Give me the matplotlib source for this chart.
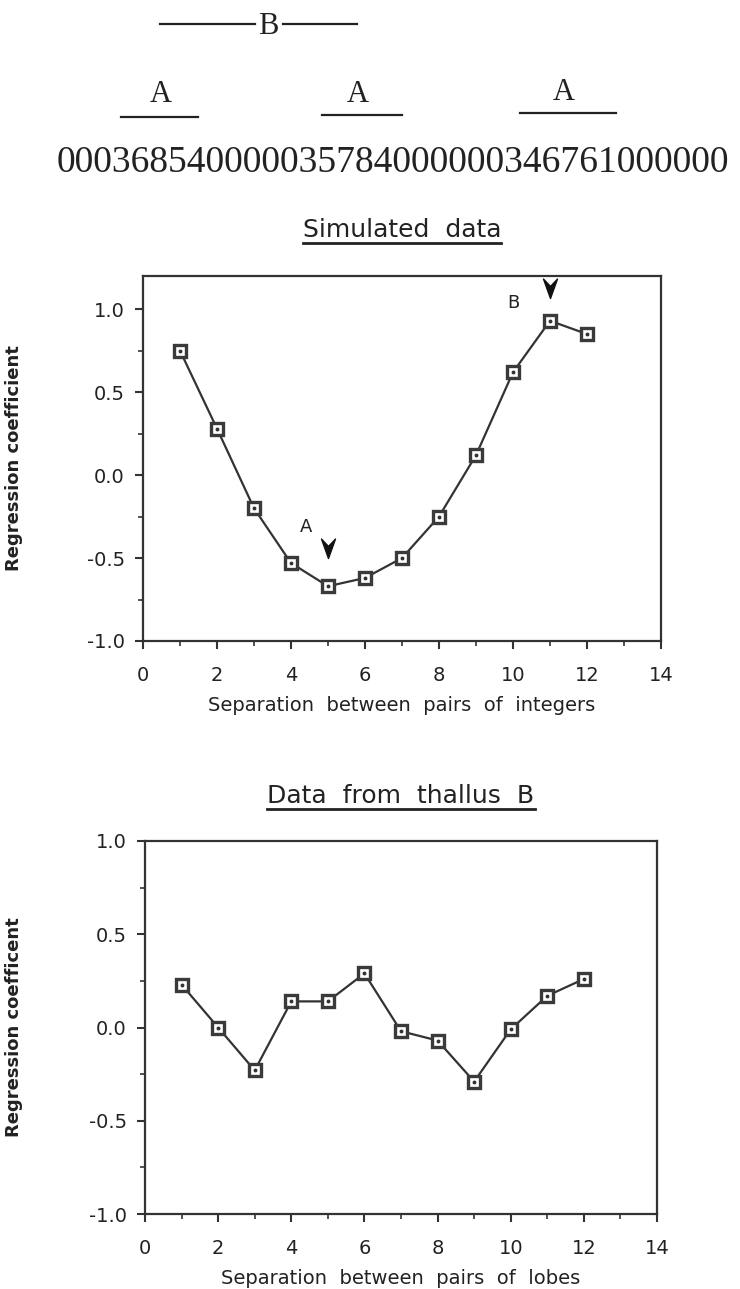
import matplotlib
matplotlib.use("Agg")
import matplotlib.pyplot as plt
from matplotlib.path import Path
from matplotlib.lines import Line2D
from matplotlib.ticker import MultipleLocator
import numpy as np

# data
separation = [1, 2, 3, 4, 5, 6, 7, 8, 9, 10, 11, 12]
simulated_coef = [0.75, 0.28, -0.20, -0.53, -0.67, -0.62, -0.50, -0.25, 0.12, 0.62, 0.93, 0.85]
thallus_coef = [0.23, 0.00, -0.23, 0.14, 0.14, 0.29, -0.02, -0.07, -0.29, -0.01, 0.17, 0.26]
sequence = "000368540000035784000000346761000000"

# arrow annotations on the simulated plot: (label, label x, label y, tip x, tip y)
arrows = [("A", 4.4, -0.31, 5, -0.50), ("B", 10.0, 1.04, 11, 1.07)]

W, H, DPI = 740, 1289, 100
LINE_COL = "#333333"
SANS = "DejaVu Sans"
SERIF = "Liberation Serif"

fig = plt.figure(figsize=(W / DPI, H / DPI), dpi=DPI)

# overlay in pixel coordinates for the sequence diagram and the titles
over = fig.add_axes([0, 0, 1, 1], zorder=0)
over.set_xlim(0, W)
over.set_ylim(H, 0)
over.axis("off")

# chevron shaped arrow head, tip at the origin
chevron = Path([(0, 0), (-0.36, 1), (0, 0.62), (0.36, 1), (0, 0)],
               [Path.MOVETO, Path.LINETO, Path.LINETO, Path.LINETO, Path.CLOSEPOLY])


def rect(top, bottom, left, right):
    return [left / W, 1 - bottom / H, (right - left) / W, (bottom - top) / H]


def setup(ax, ylim, ylabel, xlabel, label_x):
    ax.set_xlim(0, 14)
    ax.set_ylim(*ylim)
    ax.xaxis.set_major_locator(MultipleLocator(2))
    ax.xaxis.set_minor_locator(MultipleLocator(1))
    ax.yaxis.set_major_locator(MultipleLocator(0.5))
    ax.yaxis.set_minor_locator(MultipleLocator(0.25))
    ax.set_yticks([-1.0, -0.5, 0.0, 0.5, 1.0])
    ax.set_yticklabels(["-1.0", "-0.5", "0.0", "0.5", "1.0"])
    ax.tick_params(which="major", length=6, width=1.5, color=LINE_COL,
                   labelsize=14, labelcolor="#222222")
    ax.tick_params(axis="y", which="major", pad=7)
    ax.tick_params(axis="x", which="major", pad=12)
    ax.tick_params(which="minor", length=3.5, width=1.2, color=LINE_COL)
    for s in ax.spines.values():
        s.set_linewidth(1.6)
        s.set_color(LINE_COL)
    ax.set_xlabel(xlabel, fontsize=14, color="#222222", labelpad=8)
    ax.set_ylabel(ylabel, fontsize=13, fontweight="bold", color="#222222")
    ax.yaxis.set_label_coords(label_x, 0.5)


def draw_series(ax, x, y):
    ax.plot(x, y, color=LINE_COL, lw=1.6, marker="s", ms=8, mew=2.4,
            mec="#3a3a3a", mfc="white", zorder=3)
    ax.plot(x, y, ls="none", marker="o", ms=1.8, color="#333333", zorder=4)


# simulated data
ax1 = fig.add_axes(rect(276, 641, 143, 661))
draw_series(ax1, separation, simulated_coef)
setup(ax1, (-1.0, 1.2), "Regression coefficient",
      "Separation  between  pairs  of  integers", -0.232)
for lab, lx, ly, tx, ty in arrows:
    ax1.text(lx, ly, lab, fontsize=13, family=SANS, ha="center", va="center",
             color="#222222")
    ax1.plot([tx], [ty], ls="none", marker=chevron, ms=28, color="#111111",
             clip_on=False, zorder=5)

# thallus B
ax2 = fig.add_axes(rect(841, 1214, 145, 657))
draw_series(ax2, separation, thallus_coef)
setup(ax2, (-1.0, 1.0), "Regression coefficent",
      "Separation  between  pairs  of  lobes", -0.238)

# titles with underline
titles = [("Simulated  data", 402, 237), ("Data  from  thallus  B", 401, 803)]
title_artists = []
for txt, cx, by in titles:
    t = over.text(cx, by, txt, fontsize=18, family=SANS, ha="center",
                  va="baseline", color="#222222")
    title_artists.append((t, by))

# sequence diagram at the top
over.text(57, 163, sequence, fontsize=27, family=SERIF, ha="left",
          va="center", color="#222222")
a_labels = [(161, 95, 121, 198, 117), (358, 95, 322, 402, 115), (564, 92, 520, 616, 113)]
for ax_, ay, x0, x1, uy in a_labels:
    over.text(ax_, ay, "A", fontsize=22, family=SERIF, ha="center",
              va="center", color="#222222")
    over.add_line(Line2D([x0, x1], [uy, uy], color="#222222", lw=1.6))
over.text(268, 26, "B", fontsize=22, family=SERIF, ha="center", va="center",
          color="#222222")
over.add_line(Line2D([160, 255], [24, 24], color="#222222", lw=1.6))
over.add_line(Line2D([283, 357], [24, 24], color="#222222", lw=1.6))

fig.canvas.draw()
renderer = fig.canvas.get_renderer()
for t, by in title_artists:
    bb = t.get_window_extent(renderer)
    over.add_line(Line2D([bb.x0, bb.x1], [by + 6, by + 6], color="#222222", lw=2))

fig.savefig("out.png", dpi=DPI)
